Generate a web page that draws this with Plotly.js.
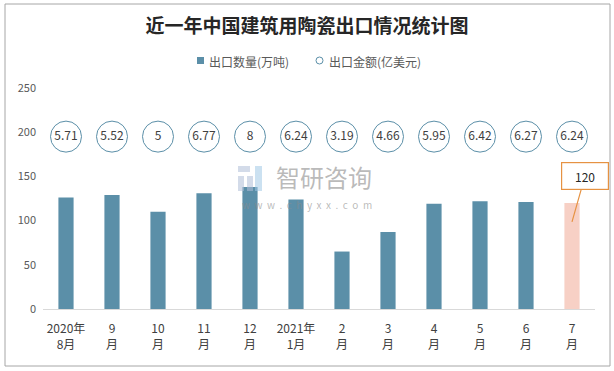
<!DOCTYPE html>
<html>
<head>
<meta charset="utf-8">
<script src="https://cdn.plot.ly/plotly-3.0.1.min.js"></script>
<style>html,body{margin:0;padding:0;background:#fff;}#chart{width:614px;height:371px;}</style>
</head>
<body>
<div id="chart"></div>
<script>
const categories = ["2020年8月","9月","10月","11月","12月","2021年1月","2月","3月","4月","5月","6月","7月"];
const tickLabels = ["2020年<br>8月","9<br>月","10<br>月","11<br>月","12<br>月","2021年<br>1月","2<br>月","3<br>月","4<br>月","5<br>月","6<br>月","7<br>月"];
const exportVolume = [126, 129, 110, 131, 138, 124, 65, 87, 119, 122, 121, 120];   // 出口数量(万吨)
const exportValue = [5.71, 5.52, 5, 6.77, 8, 6.24, 3.19, 4.66, 5.95, 6.42, 6.27, 6.24]; // 出口金额(亿美元)
const seriesNames = ['出口数量(万吨)', '出口金额(亿美元)'];

const blue = '#5b8fa8';
const pink = '#f7d0c5';
const barColors = categories.map((c, i) => i === categories.length - 1 ? pink : blue);
const labelRow = 195;

const font = '"Noto Sans CJK SC", "Liberation Sans", sans-serif';

// pixel -> paper helpers (plot area: x 43..595, y 88..309)
const px = p => (p - 43) / 552;
const py = p => (309 - p) / 221;

const traces = [
  {
    type: 'bar', x: categories, y: exportVolume, name: seriesNames[0],
    marker: {color: barColors}, width: 0.33, showlegend: false, hoverinfo: 'none'
  },
  {
    type: 'scatter', mode: 'markers+text', x: categories, y: categories.map(() => labelRow),
    name: seriesNames[1],
    text: exportValue.map(String), textposition: 'middle center',
    textfont: {family: font, size: 12, color: '#404040'},
    marker: {symbol: 'circle', size: 31, color: 'rgba(255,255,255,1)', line: {color: blue, width: 1}},
    showlegend: false, cliponaxis: false, hoverinfo: 'none'
  }
];

const layout = {
  width: 614, height: 371,
  margin: {l: 43, r: 19, t: 88, b: 62},
  paper_bgcolor: '#fff', plot_bgcolor: '#fff',
  font: {family: font, color: '#595959'},
  title: {
    text: '<b>近一年中国建筑用陶瓷出口情况统计图</b>',
    font: {family: font, size: 19, color: '#262626'},
    x: 0.5, xref: 'container', xanchor: 'center', y: 0.93, yref: 'container', yanchor: 'middle'
  },
  showlegend: false,
  xaxis: {
    type: 'category', range: [-0.5, categories.length - 0.5], autorange: false,
    tickvals: categories, ticktext: tickLabels, ticklabelstandoff: 9,
    showline: true, linecolor: '#d9d9d9', linewidth: 1, ticks: '',
    tickfont: {family: font, size: 12, color: '#404040'}, showgrid: false, fixedrange: true
  },
  yaxis: {
    range: [0, 250], autorange: false, dtick: 50, showgrid: false, zeroline: false, showline: false,
    tickfont: {family: font, size: 11, color: '#595959'}, ticklabelstandoff: 6, fixedrange: true
  },
  shapes: [
    {type: 'rect', xref: 'paper', yref: 'paper', x0: px(5), x1: px(610), y0: py(366), y1: py(4),
     line: {color: '#a6a6a6', width: 1}, fillcolor: 'rgba(0,0,0,0)', layer: 'below'},
    // legend symbols
    {type: 'rect', xref: 'paper', yref: 'paper', x0: px(197), x1: px(204), y0: py(64), y1: py(57),
     line: {width: 0}, fillcolor: blue},
    {type: 'circle', xref: 'paper', yref: 'paper', x0: px(316), x1: px(323), y0: py(64), y1: py(57),
     line: {width: 1, color: blue}, fillcolor: 'rgba(0,0,0,0)'},
    // watermark logo
    {type: 'rect', xref: 'paper', yref: 'paper', x0: px(238), x1: px(250), y0: py(172), y1: py(166),
     line: {width: 0}, fillcolor: 'rgba(175,190,215,0.55)', layer: 'above'},
    {type: 'rect', xref: 'paper', yref: 'paper', x0: px(238), x1: px(244), y0: py(191), y1: py(176),
     line: {width: 0}, fillcolor: 'rgba(175,190,215,0.55)', layer: 'above'},
    {type: 'rect', xref: 'paper', yref: 'paper', x0: px(247), x1: px(253), y0: py(191), y1: py(176),
     line: {width: 0}, fillcolor: 'rgba(175,190,215,0.55)', layer: 'above'},
    {type: 'rect', xref: 'paper', yref: 'paper', x0: px(255), x1: px(262), y0: py(191), y1: py(166),
     line: {width: 0}, fillcolor: 'rgba(160,200,230,0.55)', layer: 'above'}
  ],
  annotations: [
    {x: categories[11], y: exportVolume[11], xref: 'x', yref: 'y', text: String(exportVolume[11]),
     showarrow: true, arrowhead: 0, arrowwidth: 1.2, arrowcolor: '#e69242', ax: 13, ay: -46, yshift: -19,
     bgcolor: '#fff', bordercolor: '#e69242', borderwidth: 1.2, borderpad: 3, width: 40, height: 20,
     font: {family: font, size: 12, color: '#262626'}},
    {x: px(207), y: py(61), xref: 'paper', yref: 'paper', xanchor: 'left', yanchor: 'middle',
     text: seriesNames[0], showarrow: false, font: {family: font, size: 12, color: '#595959'}},
    {x: px(327), y: py(61), xref: 'paper', yref: 'paper', xanchor: 'left', yanchor: 'middle',
     text: seriesNames[1], showarrow: false, font: {family: font, size: 12, color: '#595959'}},
    {x: px(324), y: py(176), xref: 'paper', yref: 'paper', text: '智研咨询', showarrow: false,
     font: {family: font, size: 24, color: 'rgba(140,140,140,0.6)'}},
    {x: px(307), y: py(204), xref: 'paper', yref: 'paper', text: 'w  w  w  .  c  h  y  x  x  .  c  o  m', showarrow: false,
     font: {family: font, size: 10, color: 'rgba(140,140,140,0.6)'}}
  ]
};

Plotly.newPlot('chart', traces, layout, {displayModeBar: false, staticPlot: true});
</script>
</body>
</html>
